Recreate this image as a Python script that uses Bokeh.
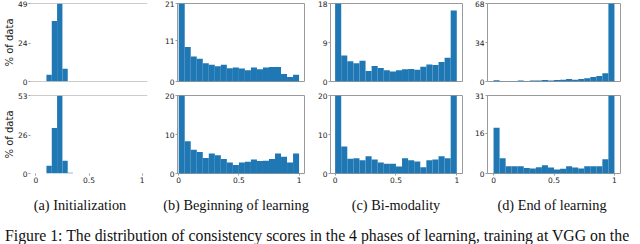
from bokeh.plotting import figure
from bokeh.layouts import row, column
from bokeh.models import Range1d, FixedTicker, Span, Div
from bokeh.embed import file_html
from bokeh.resources import INLINE

# ---- data (percent of data per bin of consistency score) ----
BIN_EDGES = [0.0, 0.05, 0.10, 0.15, 0.20, 0.25, 0.30, 0.35, 0.40, 0.45, 0.50,
             0.55, 0.60, 0.65, 0.70, 0.75, 0.80, 0.85, 0.90, 0.95, 1.0]

init_top = [0, 0, 4.3, 38, 49, 8, 0, 0, 0, 0, 0, 0, 0, 0, 0, 0, 0, 0, 0, 0]
init_bot = [0, 0, 5.3, 31, 53, 8.6, 0.5, 0, 0, 0, 0, 0, 0, 0, 0, 0, 0, 0, 0, 0]
begin_top = [21, 9.3, 6.7, 6.1, 4.9, 4.5, 4.1, 4.5, 3.6, 3.8, 3.5, 3.0, 3.8, 3.3, 3.8, 3.9, 3.9, 2.0, 1.2, 1.8]
begin_bot = [20, 8.3, 6.1, 5.5, 4.0, 5.1, 4.7, 3.7, 2.8, 2.2, 2.8, 3.0, 3.6, 3.2, 3.3, 3.7, 5.1, 4.3, 2.8, 5.1]
bimod_top = [18, 6.0, 4.7, 4.2, 4.8, 2.4, 3.6, 3.1, 2.6, 2.3, 2.6, 2.8, 2.9, 2.7, 3.4, 3.9, 3.8, 4.5, 5.5, 16.4]
bimod_bot = [20, 6.9, 3.8, 3.9, 3.4, 4.4, 3.6, 2.8, 2.5, 2.5, 1.8, 3.9, 3.4, 3.1, 1.6, 3.4, 3.6, 4.4, 3.9, 20]
end_top = [1.1, 0.2, 0.2, 0.3, 0.8, 0.4, 0.8, 0.8, 1.4, 0.9, 1.3, 1.5, 2.2, 1.6, 2.2, 2.8, 3.9, 4.7, 7.2, 68]
end_bot = [18.2, 6.1, 2.9, 2.9, 2.9, 2.2, 2.0, 2.5, 3.3, 2.4, 1.6, 1.9, 2.9, 2.4, 2.0, 2.9, 2.9, 2.9, 5.7, 31]

# y ticks: (middle tick, max tick) per panel
yticks_top = [(24, 49), (11, 21), (9, 18), (34, 68)]
yticks_bot = [(26, 53), (10, 20), (10, 20), (16, 31)]
x_ticks = [0, 0.5, 1]
x_tick_labels = ["0", "0.5", "1"]

captions = ["(a) Initialization", "(b) Beginning of learning", "(c) Bi-modality", "(d) End of learning"]
fig_caption = ("Figure 1: The distribution of consistency scores in the 4 phases of learning, "
               "training at VGG on the")
y_label = "% of data"

BAR = "#1f77b4"
SPINE = "#9a9a9a"
TXT = "#222222"
SERIF = "&#39;Liberation Serif&#39;, &#39;Times New Roman&#39;, serif"

# layout geometry
col_w = [150, 162, 158, 154]
mb_left = [24, 27, 18, 17]
mb_right = [3, 8, 8, 4]
x_ranges = [(-0.05, 1.05), (-0.01, 1.045), (-0.038, 1.047), (-0.05, 1.05)]


def panel(i, vals, ymid, ymax, bottom_row):
    h = 99 if bottom_row else 88
    p = figure(width=col_w[i], height=h,
               x_range=Range1d(*x_ranges[i]), y_range=Range1d(0, ymax),
               output_backend="svg", toolbar_location=None,
               min_border_left=mb_left[i], min_border_right=mb_right[i],
               min_border_top=7 if bottom_row else 3,
               min_border_bottom=14 if bottom_row else 7)
    p.quad(left=BIN_EDGES[:-1], right=BIN_EDGES[1:], bottom=0, top=vals,
           fill_color=BAR, line_color=None)
    p.grid.visible = False
    p.background_fill_color = "white"
    p.border_fill_color = "white"

    ya = p.yaxis[0]
    ya.ticker = FixedTicker(ticks=[0, ymid, ymax])
    ya.major_label_text_font = "DejaVu Sans"
    ya.major_label_text_font_size = "7.5px"
    ya.major_label_text_color = TXT
    ya.major_tick_out = 2
    ya.major_tick_in = 0
    ya.major_tick_line_color = SPINE
    ya.minor_tick_line_color = None
    ya.axis_line_color = None
    ya.major_label_standoff = 1
    if i == 0:
        ya.axis_label = y_label
        ya.axis_label_text_font = "DejaVu Sans"
        ya.axis_label_text_font_size = "10px"
        ya.axis_label_text_font_style = "normal"
        ya.axis_label_text_color = TXT
        ya.axis_label_standoff = 0

    xa = p.xaxis[0]
    if bottom_row:
        xa.ticker = FixedTicker(ticks=x_ticks)
        xa.major_label_overrides = {t: s for t, s in zip(x_ticks, x_tick_labels)}
        xa.major_label_text_font = "DejaVu Sans"
        xa.major_label_text_font_size = "7.5px"
        xa.major_label_text_color = TXT
        xa.major_tick_out = 2
        xa.major_tick_in = 0
        xa.major_tick_line_color = SPINE
        xa.minor_tick_line_color = None
        xa.axis_line_color = None
        xa.major_label_standoff = 1
    else:
        xa.visible = False

    if i == 0:
        p.outline_line_color = None
        p.add_layout(Span(location=ymax, dimension="width", line_color=SPINE, line_width=1))
        if not bottom_row:
            p.add_layout(Span(location=0, dimension="width", line_color=SPINE, line_width=1))
    else:
        p.outline_line_color = SPINE
        p.outline_line_width = 1
    return p


tops = [init_top, begin_top, bimod_top, end_top]
bots = [init_bot, begin_bot, bimod_bot, end_bot]

top_row = row(*[panel(i, tops[i], yticks_top[i][0], yticks_top[i][1], False) for i in range(4)])
bot_row = row(*[panel(i, bots[i], yticks_bot[i][0], yticks_bot[i][1], True) for i in range(4)])

cells = "".join(
    '<div style="width:%dpx; flex:none; text-align:center; white-space:nowrap;">%s</div>' % (w, c)
    for w, c in zip(col_w, captions))
cap_html = ('<div style="display:flex; width:624px; font-family:%s; font-size:14.3px; '
            'line-height:26px; color:#111;">%s</div>' % (SERIF, cells))
cap_div = Div(text=cap_html, width=624, height=26)

fig_html = ('<div style="width:624px; font-family:%s; font-size:15.8px; line-height:15px; '
            'color:#111; white-space:nowrap;">%s</div>' % (SERIF, fig_caption))
fig_div = Div(text=fig_html, width=624, height=15)

layout = column(top_row, bot_row, cap_div, fig_div)

open("out.html", "w").write(file_html(layout, INLINE))
